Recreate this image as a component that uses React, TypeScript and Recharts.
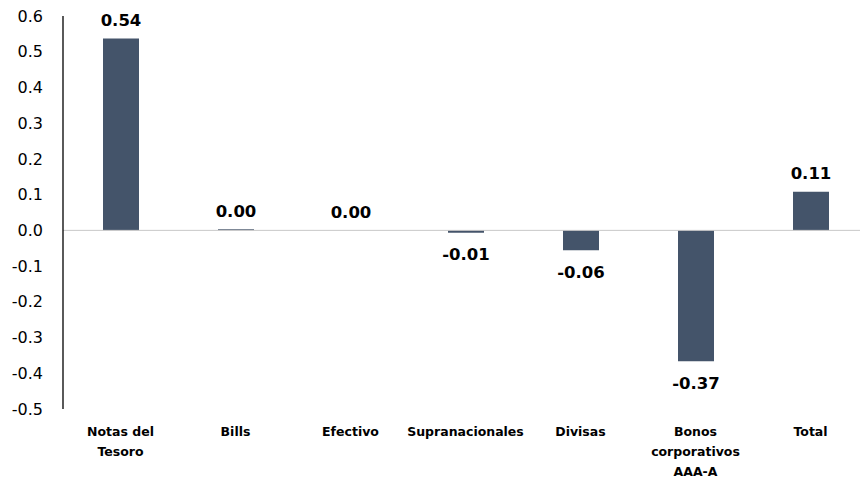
import React from 'react';
import { Bar, BarChart, LabelList, ReferenceLine, XAxis, YAxis } from 'recharts';

const categories = [
  'Notas del\nTesoro',
  'Bills',
  'Efectivo',
  'Supranacionales',
  'Divisas',
  'Bonos\ncorporativos\nAAA-A',
  'Total',
];
const values = [0.537, 0.003, 0.0005, -0.007, -0.056, -0.366, 0.108];
const yTicks = [-0.5, -0.4, -0.3, -0.2, -0.1, 0, 0.1, 0.2, 0.3, 0.4, 0.5, 0.6];

const data = categories.map((name, i) => ({ name, value: values[i] }));

const FONT = '"DejaVu Sans", sans-serif';
const BAR_COLOR = '#44546A';

function CategoryTick(props: any) {
  const { x, y, payload } = props;
  const lines = String(payload.value).split('\n');
  return (
    <g>
      {lines.map((line, i) => (
        <text
          key={i}
          x={x}
          y={y + 14 + i * 20}
          textAnchor="middle"
          dominantBaseline="central"
          fontFamily={FONT}
          fontWeight="bold"
          fontSize={12.5}
          fill="#000"
        >
          {line}
        </text>
      ))}
    </g>
  );
}

function ValueLabel(props: any) {
  const { x, y, width, height, value } = props;
  const top = Math.min(y, y + height);
  const bottom = Math.max(y, y + height);
  const cx = x + width / 2;
  const ly = value >= 0 ? top - 18 : bottom + 22;
  return (
    <text
      x={cx}
      y={ly}
      textAnchor="middle"
      dominantBaseline="central"
      fontFamily={FONT}
      fontWeight="bold"
      fontSize={16.5}
      fill="#000"
    >
      {Number(value).toFixed(2)}
    </text>
  );
}

export default function App() {
  return (
    <div style={{ position: 'absolute', left: 0, top: 0, width: 860, height: 480, overflow: 'hidden', background: '#fff' }}>
      <BarChart
        width={868}
        height={480}
        data={data}
        margin={{ top: 16, right: 0, bottom: 0, left: 0 }}
        barSize={36}
      >
        <XAxis
          dataKey="name"
          axisLine={false}
          tickLine={false}
          interval={0}
          height={71}
          tick={<CategoryTick />}
        />
        <YAxis
          domain={[-0.5, 0.6]}
          ticks={yTicks}
          interval={0}
          width={63}
          tickLine={false}
          tickSize={0}
          tickMargin={20}
          axisLine={{ stroke: '#000', strokeWidth: 1.3 }}
          tickFormatter={(v: number) => v.toFixed(1)}
          tick={{ fontFamily: FONT, fontSize: 16, fill: '#000' }}
        />
        <ReferenceLine y={0} stroke="#C8C8C8" strokeWidth={1} />
        <Bar dataKey="value" fill={BAR_COLOR} isAnimationActive={false}>
          <LabelList dataKey="value" content={<ValueLabel />} />
        </Bar>
      </BarChart>
    </div>
  );
}
